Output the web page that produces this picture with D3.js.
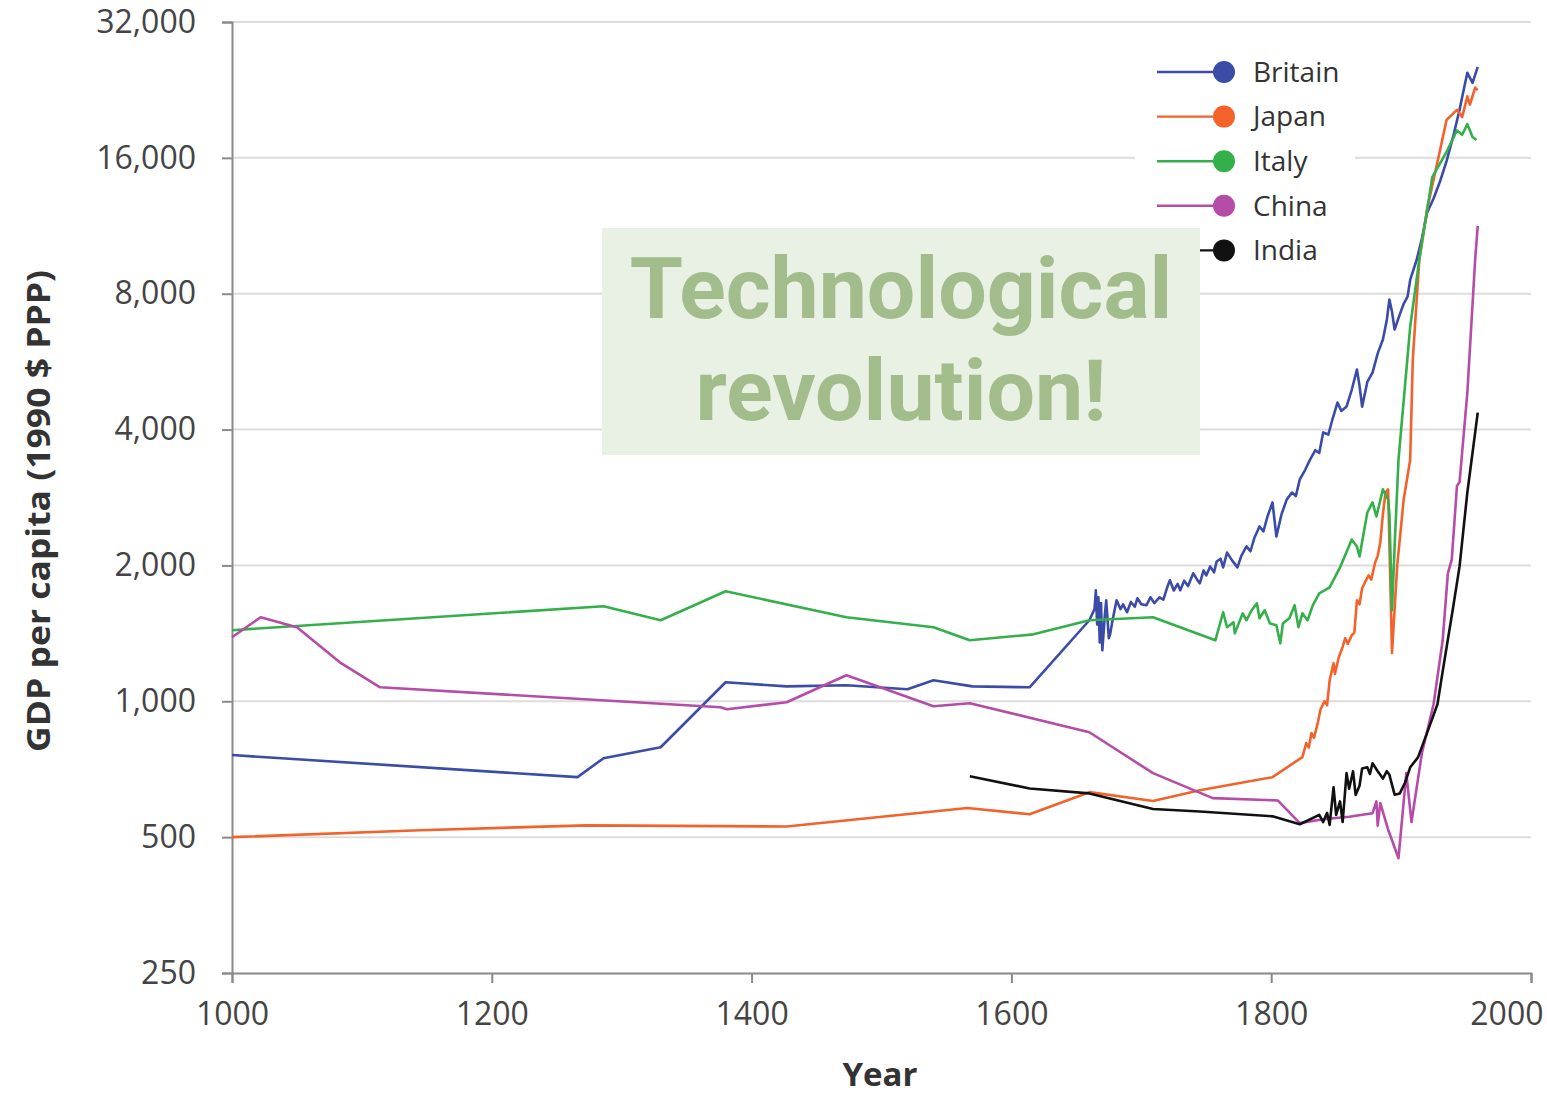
<!DOCTYPE html>
<html>
<head>
<meta charset="utf-8">
<script src="https://cdn.jsdelivr.net/npm/d3@7"></script>
<style>
  body { margin: 0; background: #fff; }
  svg { display: block; }
</style>
</head>
<body>
<svg width="1547" height="1096"></svg>
<script>
'use strict';

// GDP per capita, [year, 1990 $ PPP]
var britain = [[1000,760],[1266,679],[1286,748],[1330,791],[1380,1102],[1427,1079],[1473,1085],[1520,1063],[1540,1113],[1570,1079],[1614,1074],[1660,1512],
  [1664,1600],[1665,1762],[1666,1480],[1667,1700],[1668,1350],[1669,1650],[1670,1297],[1672,1560],[1673,1674],[1675,1380],[1676,1407],[1678,1520],
  [1681,1674],[1684,1600],[1686,1640],[1689,1575],[1692,1660],[1695,1620],[1697,1691],[1700,1640],[1704,1632],[1707,1700],[1710,1650],[1714,1700],
  [1717,1680],[1720,1790],[1722,1854],[1725,1760],[1728,1820],[1730,1762],[1733,1850],[1736,1800],[1740,1921],[1743,1860],[1745,1826],[1748,1950],
  [1750,1900],[1753,1990],[1756,1930],[1758,2040],[1761,2070],[1763,1980],[1766,2135],[1770,2050],[1774,1980],[1777,2100],[1781,2204],[1784,2150],
  [1787,2300],[1791,2440],[1794,2380],[1797,2560],[1801,2758],[1804,2318],[1808,2600],[1812,2801],[1816,2900],[1819,2850],[1822,3102],[1826,3250],
  [1830,3435],[1834,3600],[1837,3550],[1840,3942],[1844,3900],[1847,4200],[1851,4592],[1854,4400],[1858,4497],[1862,4900],[1866,5433],[1868,5000],
  [1870,4497],[1874,5100],[1878,5351],[1882,5900],[1886,6331],[1889,7000],[1891,7765],[1893,7300],[1895,6664],[1899,7200],[1902,7600],[1905,7884],
  [1907,8583],[1912,9514],[1916,10600],[1920,12096],[1925,13000],[1930,14200],[1935,15740],[1940,17800],[1945,20440],[1948,22500],[1951,24690],
  [1955,23460],[1959,25460]];

var japan = [[1000,500],[1145,518],[1273,531],[1427,528],[1566,580],[1614,562],[1660,629],[1709,601],[1745,635],[1801,679],[1824,752],[1827,808],
  [1829,790],[1831,850],[1833,830],[1836,900],[1838,960],[1841,1000],[1843,980],[1845,1113],[1848,1214],[1849,1150],[1852,1250],[1855,1320],
  [1857,1380],[1859,1340],[1862,1400],[1864,1420],[1866,1674],[1868,1640],[1870,1780],[1873,1854],[1875,1900],[1877,1860],[1880,2030],[1882,2100],
  [1884,2250],[1886,2600],[1888,2900],[1890,2947],[1893,1280],[1897,2000],[1902,2800],[1907,3430],[1909,5717],[1914,9514],[1920,12300],[1930,16660],
  [1935,19420],[1943,20440],[1947,19700],[1951,21900],[1953,21000],[1957,22900],[1959,22600]];

var italy = [[1000,1437],[1286,1624],[1330,1512],[1380,1753],[1473,1535],[1540,1459],[1568,1365],[1617,1407],[1660,1512],[1709,1535],[1757,1365],
  [1763,1575],[1766,1459],[1771,1496],[1772,1414],[1778,1566],[1781,1512],[1785,1591],[1789,1649],[1791,1527],[1795,1591],[1799,1488],[1804,1474],
  [1807,1344],[1809,1488],[1814,1527],[1818,1632],[1821,1459],[1824,1566],[1828,1512],[1832,1632],[1837,1735],[1845,1789],[1853,1980],[1862,2283],
  [1866,2203],[1868,2093],[1874,2620],[1878,2758],[1881,2567],[1886,2948],[1890,2801],[1891,2600],[1893,1591],[1895,2200],[1898,3430],[1907,6765],
  [1914,9514],[1924,14500],[1935,16500],[1943,18400],[1947,18000],[1951,19000],[1955,17800],[1958,17530]];

var china = [[1000,1386],[1022,1535],[1050,1459],[1083,1220],[1114,1074],[1376,970],[1381,960],[1427,995],[1473,1142],[1540,975],[1568,990],
  [1660,854],[1709,693],[1755,610],[1805,603],[1822,537],[1840,548],[1860,555],[1878,565],[1881,600],[1882,530],[1884,595],[1890,520],[1898,449],
  [1904,693],[1908,540],[1916,767],[1925,985],[1932,1365],[1936,1921],[1939,2060],[1943,3000],[1945,3060],[1951,4830],[1957,9514],[1959,11300]];

var india = [[1568,682],[1614,641],[1660,625],[1709,577],[1745,570],[1801,556],[1822,534],[1837,560],[1840,540],[1843,566],[1845,532],[1848,645],
  [1850,560],[1853,600],[1855,540],[1858,693],[1860,640],[1863,700],[1865,620],[1868,650],[1870,710],[1874,714],[1876,690],[1878,729],[1882,700],
  [1886,674],[1889,700],[1891,687],[1895,621],[1899,625],[1903,660],[1907,714],[1913,751],[1920,851],[1928,985],[1932,1165],[1940,1611],
  [1945,1990],[1951,2902],[1959,4362]];

var countries = ['Britain', 'Japan', 'Italy', 'China', 'India'];
var colors = ['#3a4ca8', '#f2622a', '#34b04a', '#b54ca8', '#111111'];
var yTicks = [250, 500, 1000, 2000, 4000, 8000, 16000, 32000];
var xTicks = [1000, 1200, 1400, 1600, 1800, 2000];

(function () {
  var series = [britain, japan, italy, china, india];

  var svg = d3.select('svg');
  var pLeft = 232, pRight = 1531, pTop = 22, pBottom = 973;

  var x = d3.scaleLinear().domain([1000, 2000]).range([pLeft, pRight]);
  var y = d3.scaleLog().base(2).domain([250, 32000]).range([pBottom, pTop]);

  // grid
  svg.append('g').selectAll('line').data(yTicks.slice(1)).enter().append('line')
    .attr('x1', pLeft).attr('x2', pRight)
    .attr('y1', function (d) { return y(d) }).attr('y2', function (d) { return y(d) })
    .attr('stroke', '#dcdcdc').attr('stroke-width', 2);

  var yAxis = svg.append('g')
    .attr('transform', 'translate(' + pLeft + ',0)')
    .call(d3.axisLeft(y).tickValues(yTicks).tickFormat(d3.format(',')).tickSize(10).tickPadding(26));
  var xAxis = svg.append('g')
    .attr('transform', 'translate(0,' + pBottom + ')')
    .call(d3.axisBottom(x).tickValues(xTicks).tickFormat(d3.format('d')).tickSize(10).tickPadding(19));

  [yAxis, xAxis].forEach(function (a) {
    a.selectAll('path, line').attr('stroke', '#8a8a8a').attr('stroke-width', 2);
    a.selectAll('text').attr('fill', '#444').style('font-family', '"Open Sans", "Noto Sans", sans-serif').style('font-size', '32px');
  });
  // last year label sits inside the page edge
  xAxis.selectAll('.tick').filter(function (d) { return d === 2000 })
    .select('text').attr('text-anchor', 'end').attr('x', 12);

  // lines
  var line = d3.line()
    .x(function (d) { return x(d[0]) })
    .y(function (d) { return y(d[1]) });

  series.forEach(function (s, i) {
    svg.append('path')
      .datum(s)
      .attr('fill', 'none')
      .attr('stroke', colors[i])
      .attr('stroke-width', 2.6)
      .attr('stroke-linejoin', 'round')
      .attr('d', line);
  });

  // legend
  var lg = svg.append('g');
  lg.append('rect').attr('x', 1135).attr('y', 44).attr('width', 220).attr('height', 228).attr('fill', '#fff');
  countries.forEach(function (c, i) {
    var ly = 72 + i * 44.6;
    lg.append('line').attr('x1', 1157).attr('x2', 1222).attr('y1', ly).attr('y2', ly)
      .attr('stroke', colors[i]).attr('stroke-width', 2.4);
    lg.append('circle').attr('cx', 1224).attr('cy', ly).attr('r', 11).attr('fill', colors[i]);
    lg.append('text').attr('x', 1253).attr('y', ly).attr('dy', '0.35em')
      .attr('fill', '#333').style('font-family', '"Open Sans", "Noto Sans", sans-serif').style('font-size', '28px')
      .text(c);
  });

  // annotation
  svg.append('rect').attr('x', 602).attr('y', 228).attr('width', 598).attr('height', 227).attr('fill', '#e9f0e4');
  svg.append('text').attr('x', 901).attr('y', 318).attr('text-anchor', 'middle')
    .attr('fill', '#a2bd8b').style('font-family', 'Roboto, sans-serif').style('font-weight', 'bold').style('font-size', '86px')
    .text('Technological');
  svg.append('text').attr('x', 901).attr('y', 420).attr('text-anchor', 'middle')
    .attr('fill', '#a2bd8b').style('font-family', 'Roboto, sans-serif').style('font-weight', 'bold').style('font-size', '86px')
    .text('revolution!');

  // axis titles
  svg.append('text')
    .attr('transform', 'translate(50,511) rotate(-90)')
    .attr('text-anchor', 'middle')
    .attr('fill', '#333').style('font-family', '"Open Sans", sans-serif').style('font-weight', 'bold').style('font-size', '33px')
    .attr('textLength', 482).attr('lengthAdjust', 'spacingAndGlyphs')
    .text('GDP per capita (1990 $ PPP)');
  svg.append('text')
    .attr('x', 880).attr('y', 1086).attr('text-anchor', 'middle')
    .attr('fill', '#333').style('font-family', '"Open Sans", sans-serif').style('font-weight', 'bold').style('font-size', '33px')
    .text('Year');
})();
</script>
</body>
</html>
